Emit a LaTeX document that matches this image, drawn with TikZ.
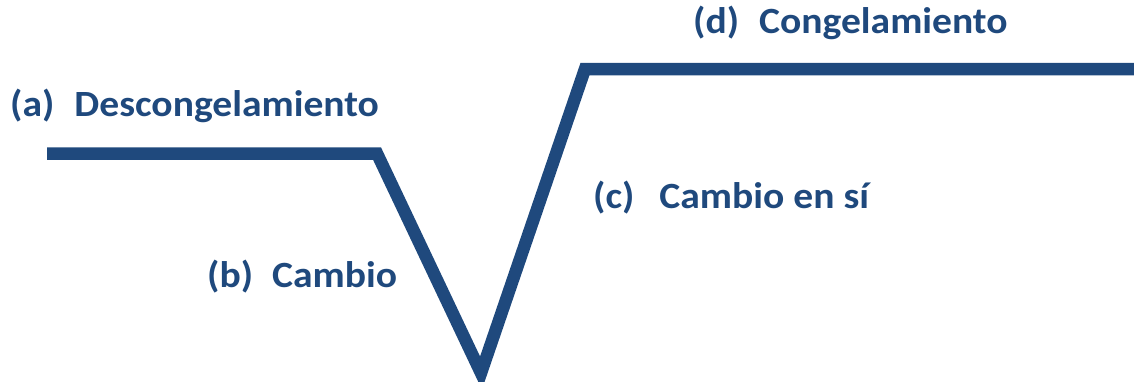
\documentclass[tikz,border=0pt]{standalone}
\usepackage{fontspec}
\newfontfamily\labfont[FakeStretch=1.07]{Carlito}
\definecolor{navy}{HTML}{1F497D}
\begin{document}
\begin{tikzpicture}[x=1pt,y=-1pt,
  lab/.style={anchor=base west,inner sep=0pt,text=navy,font=\labfont\bfseries\fontsize{37}{40}\selectfont},
  curve/.style={draw=navy,line width=12.5pt,line join=miter,miter limit=10}]
\useasboundingbox (0,0) rectangle (1134,381);
\coordinate (p0) at (47,153.5);
\coordinate (p1) at (377,153.5);
\coordinate (p2) at (481,373);
\coordinate (p3) at (585,69);
\coordinate (p4) at (1140,69);
\draw[curve] (p0) -- (p1) -- (p2) -- (p3) -- (p4);
\node[lab] (a) at (10,116) {(a)\hspace{20pt}Descongelamiento};
\node[lab] (b) at (207,287) {(b)\hspace{19pt}Cambio};
\node[lab] (c) at (593,208) {(c)\hspace{25pt}Cambio en sí};
\node[lab] (d) at (693,33) {(d)\hspace{20pt}Congelamiento};
\end{tikzpicture}
\end{document}
